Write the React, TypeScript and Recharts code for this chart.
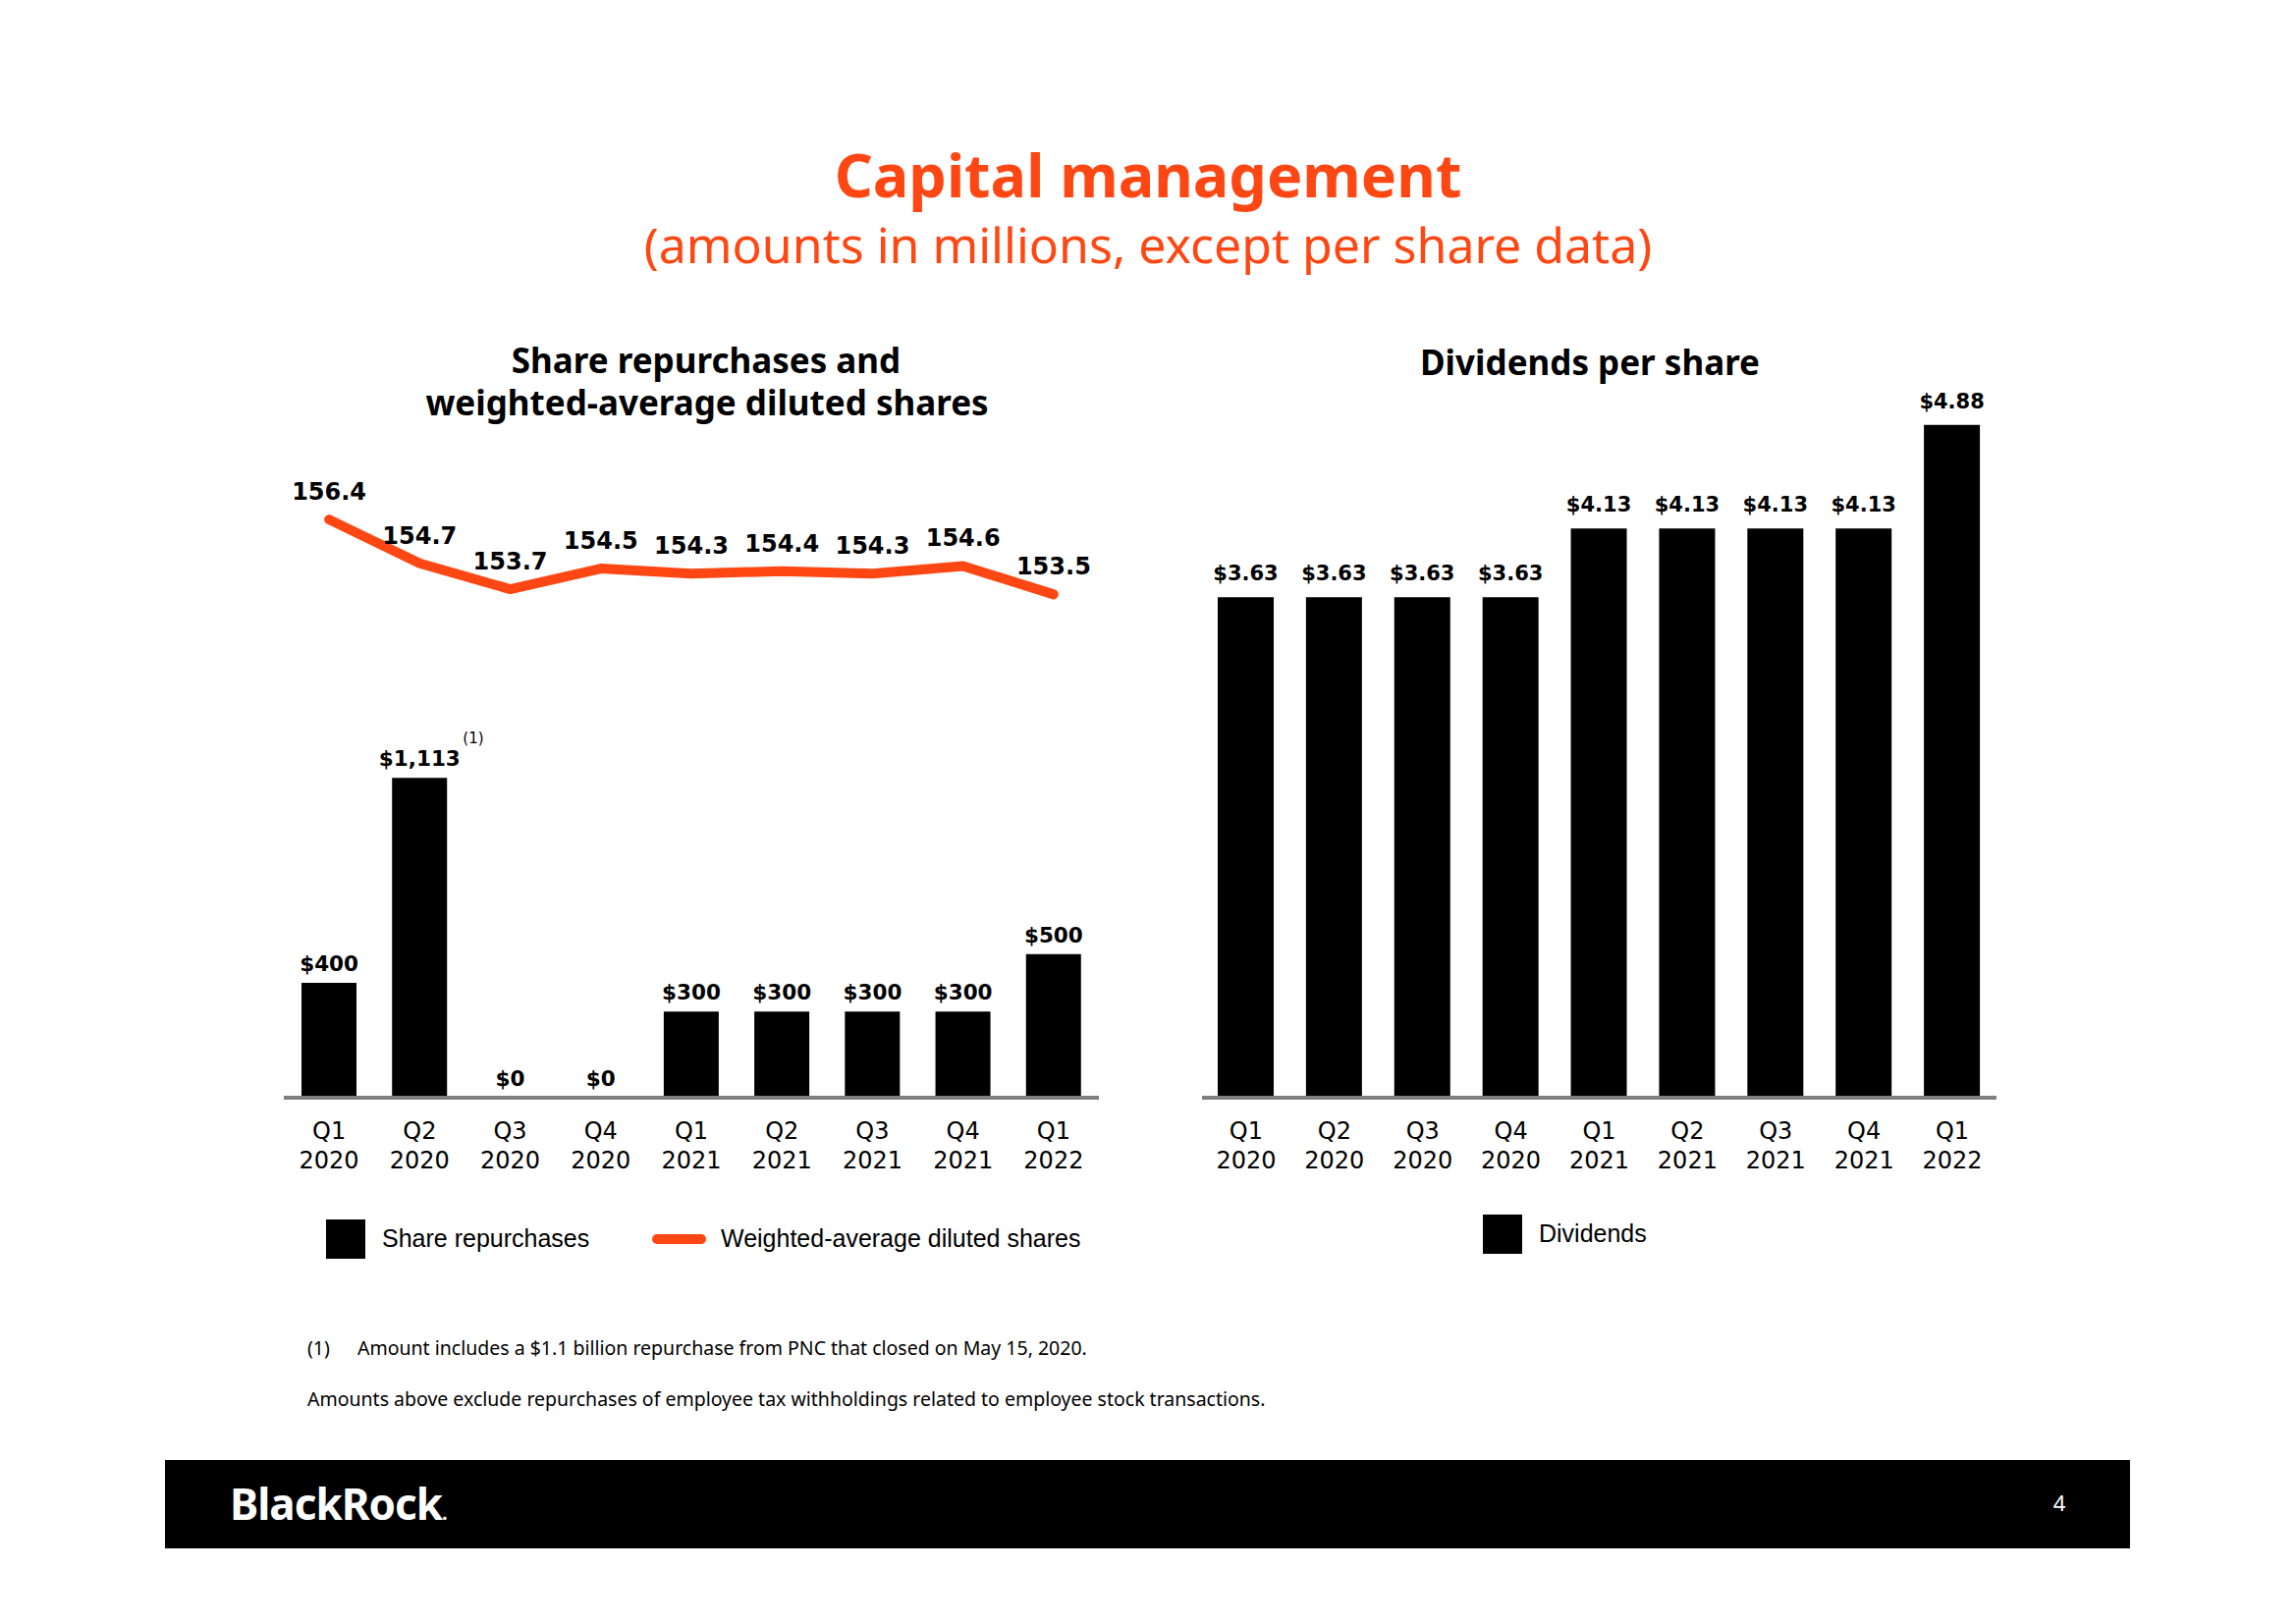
import React from 'react';
import { ComposedChart, BarChart, Bar, Line, XAxis, YAxis, LabelList } from 'recharts';

const quarters = ['Q1 2020', 'Q2 2020', 'Q3 2020', 'Q4 2020', 'Q1 2021', 'Q2 2021', 'Q3 2021', 'Q4 2021', 'Q1 2022'];
const repurchases = [400, 1113, 0, 0, 300, 300, 300, 300, 500];
const repurchaseNotes = ['', '(1)', '', '', '', '', '', '', ''];
const dilutedShares = [156.4, 154.7, 153.7, 154.5, 154.3, 154.4, 154.3, 154.6, 153.5];
const dividends = [3.63, 3.63, 3.63, 3.63, 4.13, 4.13, 4.13, 4.13, 4.88];

const ORANGE = '#ff4713';
const LABEL_FONT = '"DejaVu Sans", sans-serif';
const TITLE_FONT = '"Noto Sans", "DejaVu Sans", sans-serif';
const LEGEND_FONT = '"Liberation Sans", Arial, sans-serif';

const capitalData = quarters.map((q, i) => ({
  q,
  repurchases: repurchases[i],
  shares: dilutedShares[i],
}));
const dividendData = quarters.map((q, i) => ({ q, dividends: dividends[i] }));

const QuarterTick = ({ x, y, payload }: any) => {
  const [q, yr] = String(payload.value).split(' ');
  return (
    <g fontFamily={LABEL_FONT} fontSize={24} fill="#000">
      <text x={x} y={y + 42} textAnchor="middle">{q}</text>
      <text x={x} y={y + 72} textAnchor="middle">{yr}</text>
    </g>
  );
};

// drawn from an invisible line on the bar axis so that $0 values get a label too
const RepurchaseLabel = (props: any) => {
  const { x, y, value, index } = props;
  const note = repurchaseNotes[index] || '';
  return (
    <g>
      <text x={x} y={y - 12} textAnchor="middle" fontFamily={LABEL_FONT} fontWeight={700} fontSize={21.5} fill="#000">
        {`$${Number(value).toLocaleString('en-US')}`}
      </text>
      {note && (
        <text x={x + 44} y={y - 35} fontFamily={LABEL_FONT} fontSize={15} fill="#000">
          {note}
        </text>
      )}
    </g>
  );
};

const ShareLabel = (props: any) => {
  const { x, y, value } = props;
  return (
    <text x={x} y={y - 20} textAnchor="middle" fontFamily={LABEL_FONT} fontWeight={700} fontSize={24} fill="#000">
      {Number(value).toFixed(1)}
    </text>
  );
};

const DividendLabel = (props: any) => {
  const { x, y, width, value } = props;
  return (
    <text x={x + width / 2} y={y - 17} textAnchor="middle" fontFamily={LABEL_FONT} fontWeight={700} fontSize={21} fill="#000">
      {`$${Number(value).toFixed(2)}`}
    </text>
  );
};

export default function App() {
  return (
    <div style={{ position: 'absolute', left: 0, top: 0, width: 2338, height: 1653, background: '#fff', overflow: 'hidden' }}>
      {/* static text, legends and footer */}
      <svg width={2338} height={1653} style={{ position: 'absolute', left: 0, top: 0 }}>
        <text x={1169} y={201} textAnchor="middle" fontFamily={TITLE_FONT} fontWeight={700} fontSize={61} fill={ORANGE}>
          Capital management
        </text>
        <text x={1169} y={268} textAnchor="middle" fontFamily={TITLE_FONT} fontSize={50} fill={ORANGE}>
          (amounts in millions, except per share data)
        </text>

        <text x={719} y={380} textAnchor="middle" fontFamily={TITLE_FONT} fontWeight={700} fontSize={35} fill="#000">
          Share repurchases and
        </text>
        <text x={720} y={423} textAnchor="middle" fontFamily={TITLE_FONT} fontWeight={700} fontSize={35} fill="#000">
          weighted-average diluted shares
        </text>
        <text x={1619} y={382} textAnchor="middle" fontFamily={TITLE_FONT} fontWeight={700} fontSize={35} fill="#000">
          Dividends per share
        </text>

        {/* legends */}
        <rect x={332} y={1242} width={40} height={40} fill="#000" />
        <text x={389} y={1270} fontFamily={LEGEND_FONT} fontSize={25} fill="#000">Share repurchases</text>
        <line x1={669} y1={1262} x2={714} y2={1262} stroke={ORANGE} strokeWidth={10} strokeLinecap="round" />
        <text x={734} y={1270} fontFamily={LEGEND_FONT} fontSize={25} fill="#000">Weighted-average diluted shares</text>
        <rect x={1510} y={1237} width={40} height={40} fill="#000" />
        <text x={1567} y={1265} fontFamily={LEGEND_FONT} fontSize={25} fill="#000">Dividends</text>

        {/* footnotes */}
        <text x={313} y={1380} fontFamily={TITLE_FONT} fontSize={19.5} fill="#000">(1)</text>
        <text x={364} y={1380} fontFamily={TITLE_FONT} fontSize={19.5} fill="#000">
          Amount includes a $1.1 billion repurchase from PNC that closed on May 15, 2020.
        </text>
        <text x={313} y={1432} fontFamily={TITLE_FONT} fontSize={19.5} fill="#000">
          Amounts above exclude repurchases of employee tax withholdings related to employee stock transactions.
        </text>

        {/* footer */}
        <rect x={168} y={1487} width={2001} height={90} fill="#000" />
        <text x={234} y={1548} fontFamily={TITLE_FONT} fontWeight={700} fontSize={44} letterSpacing={-1} fill="#fff">
          BlackRock<tspan fontSize={20}>.</tspan>
        </text>
        <text x={2097} y={1539} textAnchor="middle" fontFamily={TITLE_FONT} fontSize={22} fill="#fff">4</text>
      </svg>

      <div style={{ position: 'absolute', left: 239, top: 300 }}>
        <ComposedChart width={930} height={1000} data={capitalData} margin={{ top: 145, right: 50, bottom: 102, left: 50 }}>
          <XAxis
            dataKey="q"
            height={80}
            interval={0}
            tickLine={false}
            tickSize={0}
            tickMargin={0}
            axisLine={{ stroke: '#7f7f7f', strokeWidth: 4 }}
            tick={<QuarterTick />}
          />
          <YAxis yAxisId="bar" hide type="number" domain={[0, 2300]} allowDataOverflow />
          <YAxis yAxisId="line" hide orientation="right" type="number" domain={[134, 159.6]} allowDataOverflow />
          <Bar yAxisId="bar" dataKey="repurchases" fill="#000" barSize={56} isAnimationActive={false} />
          <Line
            yAxisId="bar"
            dataKey="repurchases"
            stroke="none"
            dot={false}
            activeDot={false}
            legendType="none"
            isAnimationActive={false}
          >
            <LabelList dataKey="repurchases" content={<RepurchaseLabel />} />
          </Line>
          <Line
            yAxisId="line"
            dataKey="shares"
            stroke={ORANGE}
            strokeWidth={10}
            strokeLinecap="round"
            strokeLinejoin="round"
            dot={false}
            activeDot={false}
            isAnimationActive={false}
          >
            <LabelList dataKey="shares" content={<ShareLabel />} />
          </Line>
        </ComposedChart>
      </div>

      <div style={{ position: 'absolute', left: 1174, top: 300 }}>
        <BarChart width={909} height={1000} data={dividendData} margin={{ top: 116, right: 50, bottom: 102, left: 50 }}>
          <XAxis
            dataKey="q"
            height={80}
            interval={0}
            tickLine={false}
            tickSize={0}
            tickMargin={0}
            axisLine={{ stroke: '#7f7f7f', strokeWidth: 4 }}
            tick={<QuarterTick />}
          />
          <YAxis hide type="number" domain={[0, 5]} allowDataOverflow />
          <Bar dataKey="dividends" fill="#000" barSize={57} isAnimationActive={false}>
            <LabelList dataKey="dividends" content={<DividendLabel />} />
          </Bar>
        </BarChart>
      </div>
    </div>
  );
}
